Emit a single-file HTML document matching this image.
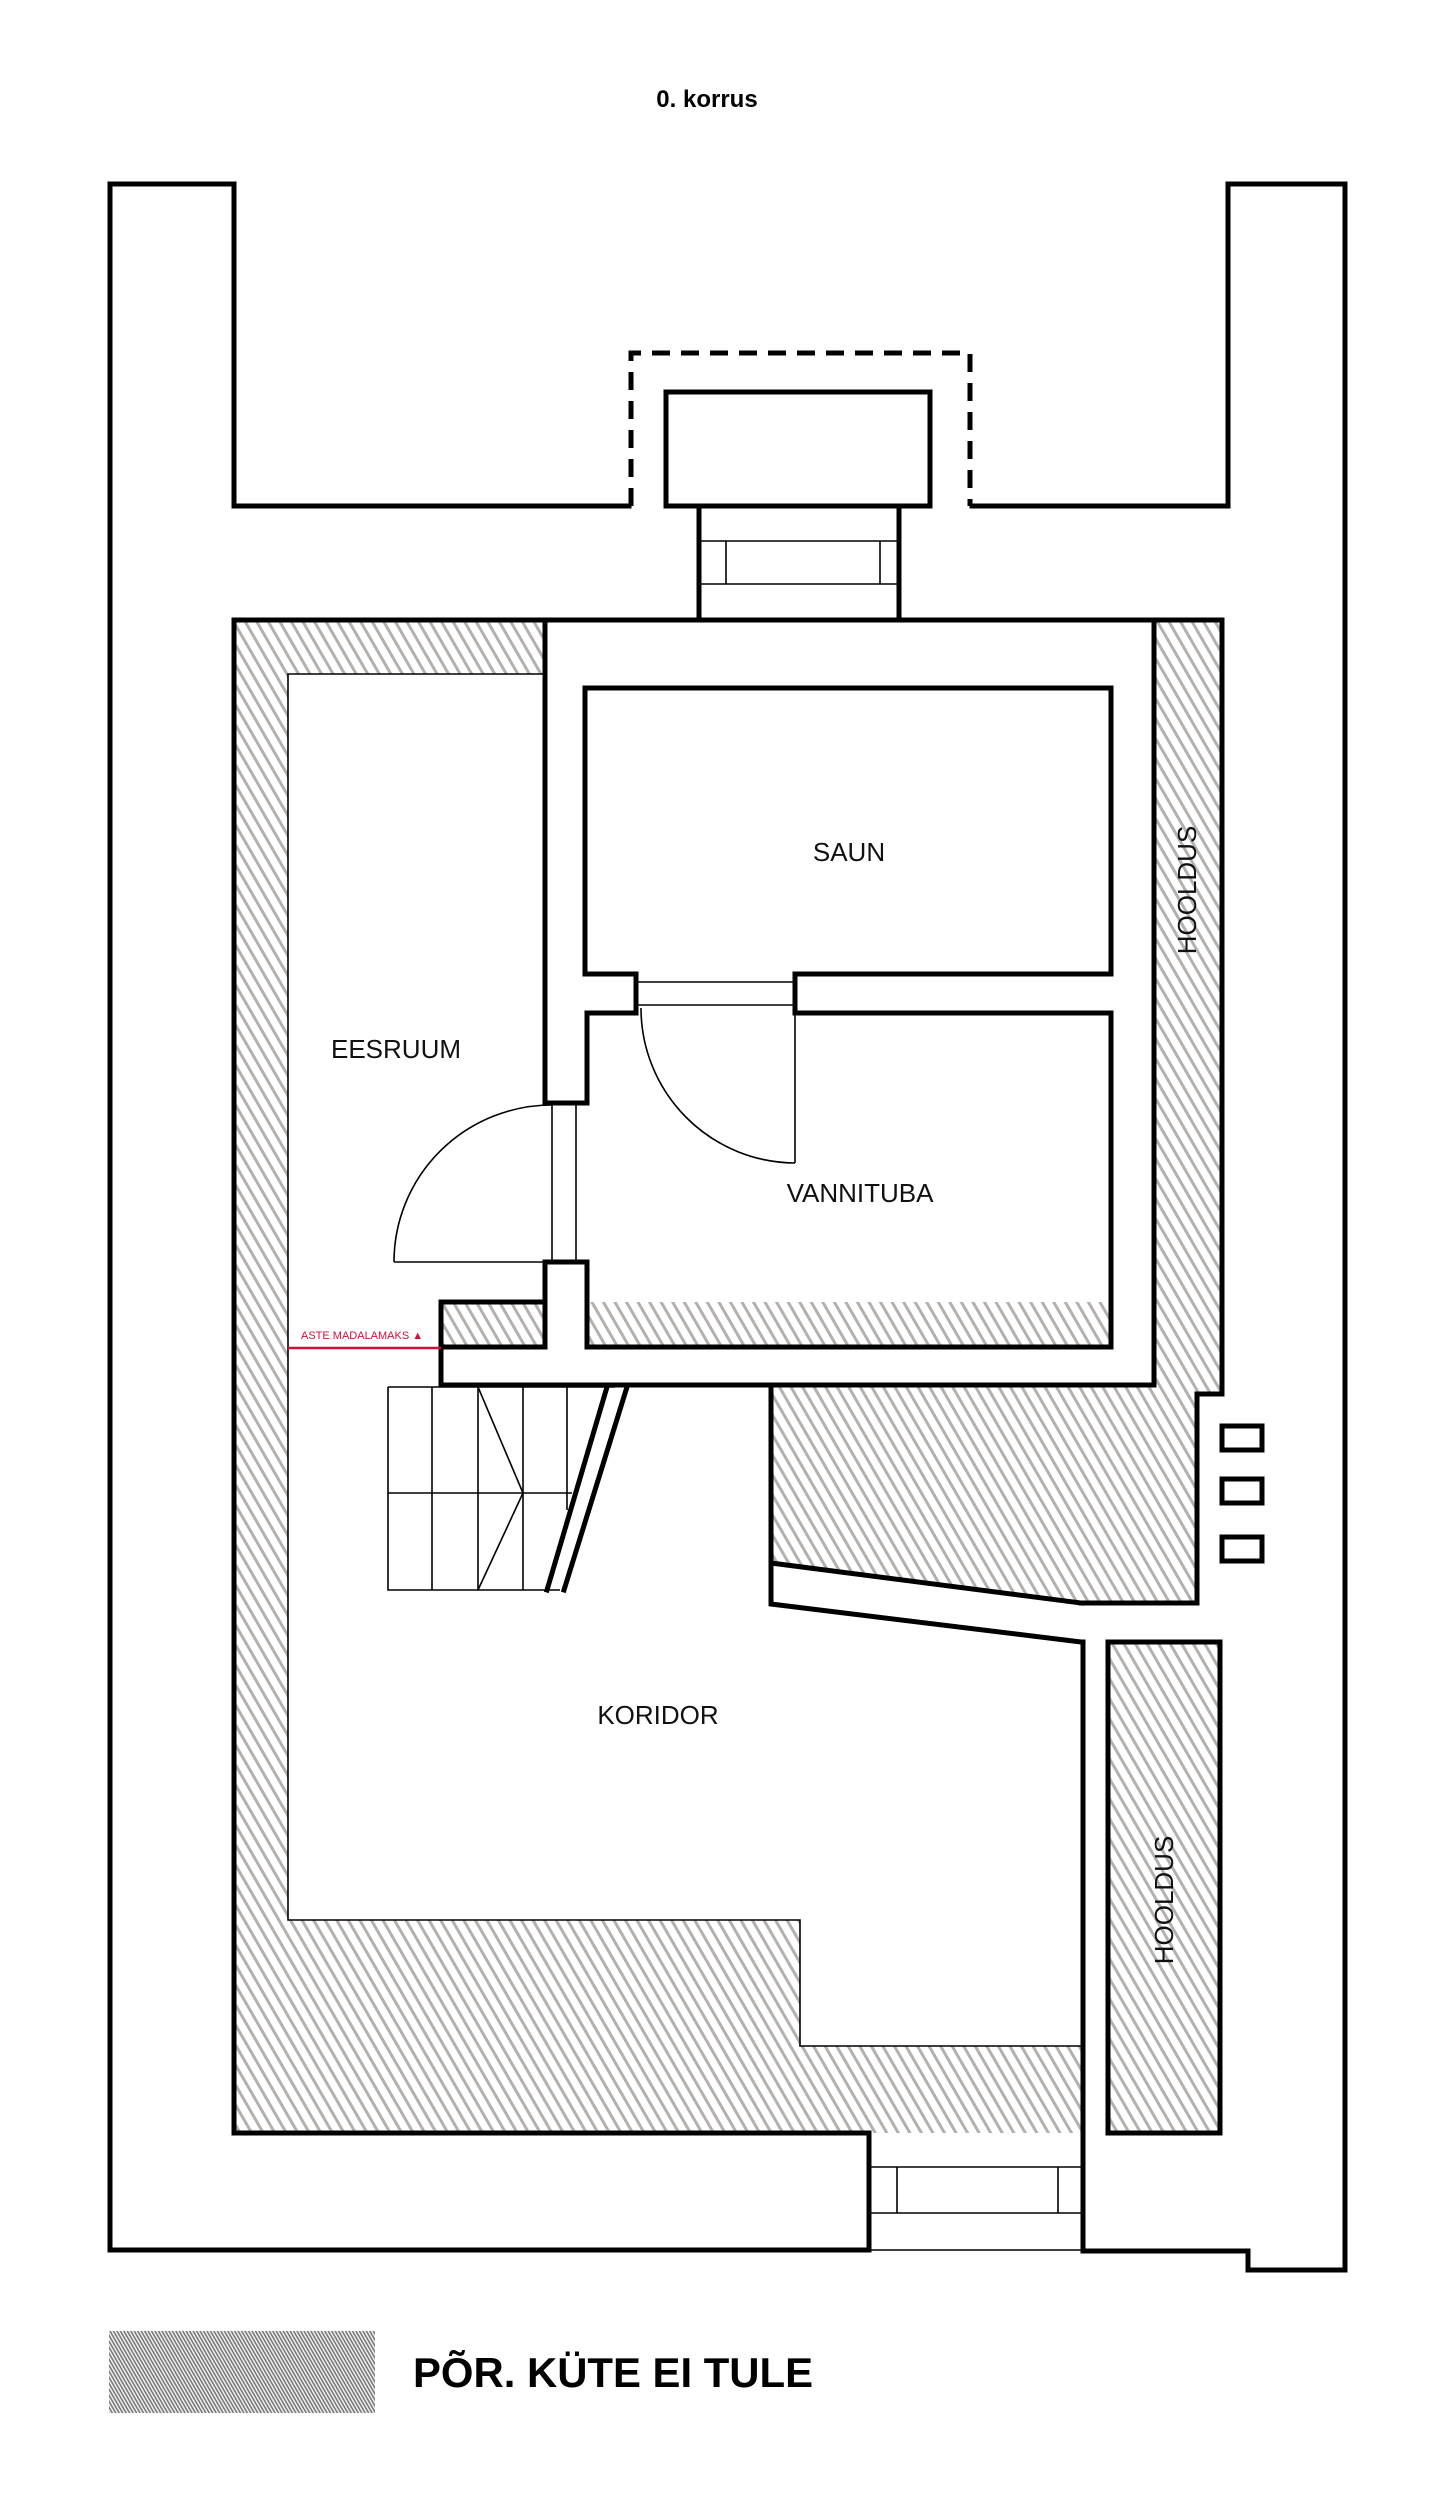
<!DOCTYPE html>
<html><head><meta charset="utf-8"><style>
html,body{margin:0;padding:0;background:#fff;}
svg{display:block;}
text{font-family:"Liberation Sans",sans-serif;}
</style></head><body>
<svg width="1451" height="2500" viewBox="0 0 1451 2500" xmlns="http://www.w3.org/2000/svg">
<defs>
<pattern id="h" patternUnits="userSpaceOnUse" width="10" height="10" patternTransform="rotate(-30)">
<rect width="10" height="10" fill="#fff"/>
<rect x="0" y="0" width="3" height="10" fill="#b4b0ae"/>
</pattern>
<pattern id="f" patternUnits="userSpaceOnUse" width="3" height="3" patternTransform="rotate(-30)">
<rect width="3" height="3" fill="#eee"/>
<rect x="0" y="0" width="1.5" height="3" fill="#777"/>
</pattern>
</defs>

<text x="707" y="107" font-size="24" font-weight="bold" text-anchor="middle">0. korrus</text>

<!-- hatched regions -->
<polygon fill="url(#h)" points="234,620 547,620 547,674 288,674 288,1920 800,1920 800,2046 1083,2046 1083,2133 234,2133"/>
<polygon fill="url(#h)" points="1154,620 1222,620 1222,1394 1197,1394 1197,1603 1081,1603 771,1563 771,1387 1154,1387"/>
<rect x="1108" y="1642" width="112" height="491" fill="url(#h)"/>
<rect x="441" y="1302" width="104" height="45" fill="url(#h)"/>
<rect x="587" y="1302" width="524" height="45" fill="url(#h)"/>

<g fill="none" stroke="#000" stroke-width="5" stroke-linejoin="miter" stroke-linecap="square">
<!-- outer shell -->
<polyline points="629,506 234,506 234,184 110,184 110,2250 869,2250"/>
<polyline points="972,506 1228,506 1228,184 1345,184 1345,2270 1248,2270 1248,2251 1083,2251"/>
<rect x="666" y="392" width="264" height="114"/>
<line x1="699" y1="506" x2="699" y2="620"/>
<line x1="899" y1="506" x2="899" y2="620"/>
<!-- building -->
<polyline points="234,620 1222,620 1222,1394 1197,1394 1197,1603 1081,1603"/>
<polyline points="234,620 234,2133 869,2133 869,2250"/>
<line x1="1083" y1="1642" x2="1083" y2="2251"/>
<polyline points="771,1387 771,1563 1081,1603"/>
<polyline points="771,1563 771,1604 1081,1642 1083,1642"/>
<rect x="1108" y="1642" width="112" height="491"/>
<!-- central wall -->
<polyline points="545,620 545,1103 587,1103 587,1013 636,1013 636,974 585,974 585,688 1111,688 1111,974 795,974 795,1013 1111,1013 1111,1347 587,1347 587,1262 545,1262 545,1302 441,1302 441,1385 1154,1385 1154,620"/>
<line x1="545" y1="1302" x2="545" y2="1347"/>
<line x1="441" y1="1347" x2="545" y2="1347"/>
<!-- stair stringer -->
<line x1="607" y1="1387" x2="547" y2="1590"/>
<line x1="627" y1="1387" x2="564" y2="1590"/>
<!-- small squares -->
<rect x="1222" y="1426" width="40" height="24"/>
<rect x="1222" y="1479" width="40" height="24"/>
<rect x="1222" y="1537" width="40" height="24"/>
</g>

<!-- dashed -->
<polyline points="631,506 631,353 970,353 970,506" fill="none" stroke="#000" stroke-width="5" stroke-dasharray="18,11"/>

<g fill="none" stroke="#000" stroke-width="1.6">
<!-- vestibule top -->
<line x1="699" y1="541" x2="899" y2="541"/>
<line x1="699" y1="584" x2="899" y2="584"/>
<line x1="726" y1="541" x2="726" y2="584"/>
<line x1="880" y1="541" x2="880" y2="584"/>
<!-- bottom entrance -->
<line x1="869" y1="2167" x2="1083" y2="2167"/>
<line x1="869" y1="2213" x2="1083" y2="2213"/>
<line x1="869" y1="2250" x2="1083" y2="2250"/>
<line x1="897" y1="2167" x2="897" y2="2213"/>
<line x1="1058" y1="2167" x2="1058" y2="2213"/>
<!-- inner thin lines -->
<polyline points="545,674 288,674 288,1920 800,1920 800,2046 1083,2046"/>
<!-- saun door -->
<line x1="636" y1="982" x2="795" y2="982"/>
<line x1="636" y1="1005" x2="795" y2="1005"/>
<line x1="795" y1="1013" x2="795" y2="1163"/>
<path d="M641,1008 A155,155 0 0 0 795,1163"/>
<!-- eesruum door -->
<line x1="552" y1="1103" x2="552" y2="1262"/>
<line x1="576" y1="1103" x2="576" y2="1262"/>
<line x1="394" y1="1262" x2="552" y2="1262"/>
<path d="M552,1105 A158,157 0 0 0 394,1262"/>
<!-- stairs -->
<polyline points="388,1387 388,1590 560,1590"/>
<line x1="388" y1="1387" x2="615" y2="1387"/>
<line x1="388" y1="1493" x2="572" y2="1493"/>
<line x1="432" y1="1387" x2="432" y2="1590"/>
<line x1="478" y1="1387" x2="478" y2="1590"/>
<line x1="523" y1="1387" x2="523" y2="1590"/>
<line x1="567" y1="1387" x2="567" y2="1510"/>
<polyline points="478,1387 523,1493 478,1590"/>
</g>

<!-- red line -->
<line x1="288" y1="1348" x2="441" y2="1348" stroke="#d0103a" stroke-width="2.5"/>
<text x="301" y="1339" font-size="11" fill="#d0103a">ASTE MADALAMAKS ▲</text>

<!-- labels -->
<g font-size="26" fill="#111" text-anchor="middle">
<text x="849" y="861">SAUN</text>
<text x="396" y="1058">EESRUUM</text>
<text x="860" y="1202">VANNITUBA</text>
<text x="658" y="1724">KORIDOR</text>
<text transform="translate(1196,890) rotate(-90)">HOOLDUS</text>
<text transform="translate(1173,1900) rotate(-90)">HOOLDUS</text>
</g>

<!-- legend -->
<rect x="109" y="2331" width="266" height="82" fill="url(#f)"/>
<text x="413" y="2387" font-size="42" font-weight="bold" textLength="400" lengthAdjust="spacingAndGlyphs">PÕR. KÜTE EI TULE</text>
</svg>
</body></html>
